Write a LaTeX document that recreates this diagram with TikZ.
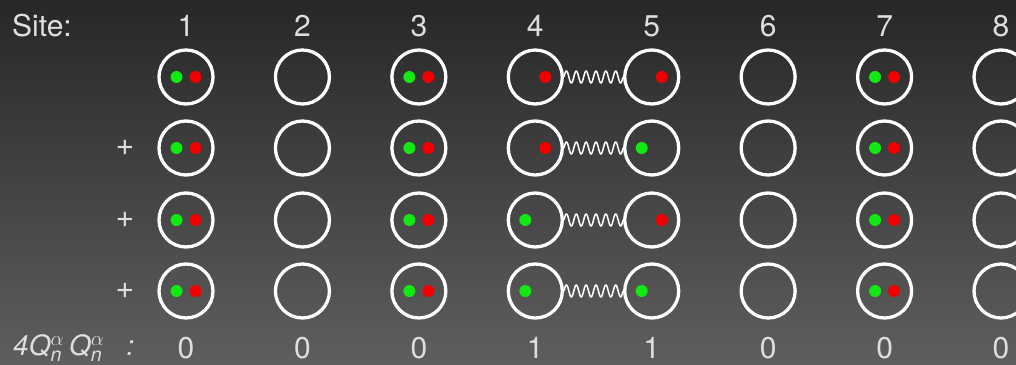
\documentclass[tikz,border=0pt]{standalone}
\usepackage{amsmath}
\usepackage{fontspec}
\setmainfont{TeX Gyre Heros}
\usetikzlibrary{calc}
\definecolor{txt}{HTML}{DEDEDE}
\definecolor{bgtop}{HTML}{272727}
\definecolor{bgbot}{HTML}{5E5E5E}
\definecolor{dotgreen}{HTML}{12E812}
\definecolor{dotred}{HTML}{F20000}
\begin{document}
\begin{tikzpicture}[x=1pt,y=-1pt,
  sitecirc/.style={circle,draw=white,line width=3.3pt,minimum size=54pt,inner sep=0pt},
  lbl/.style={text=txt,font=\fontsize{30}{36}\selectfont,inner sep=0pt},
  spring/.style={draw=white,line width=1.5pt,line join=round},
  gdot/.style={fill=dotgreen},
  rdot/.style={fill=dotred}]
\useasboundingbox (0,0) rectangle (1016,364);
\clip (0,0) rectangle (1016,364);
\shade[top color=bgtop,bottom color=bgbot] (0,0) rectangle (1016,364);
% header
\node[lbl,anchor=base west] (site) at (12,36) {Site:};
\node[lbl,anchor=base west,font=\fontsize{28}{32}\selectfont] (qq) at (13,355)
  {\itshape 4Q$^{\alpha}_{\textit{n}}$\hspace{5pt}Q$^{\alpha}_{\textit{n}}$\hspace{22pt}:};
\foreach \i/\v in {1/0,2/0,3/0,4/1,5/1,6/0,7/0,8/0}{
  \pgfmathsetmacro\x{186+116.43*(\i-1)}
  \node[lbl,anchor=base] (n\i) at (\x,36) {\i};
  \node[lbl,anchor=base] (v\i) at (\x,358) {\v};
  \foreach \r/\y in {1/77,2/148,3/220,4/291}{
    \node[sitecirc] (c\i-\r) at (\x,\y) {};
  }
}
% plus signs
\foreach \r/\y in {2/148,3/220,4/291}{
  \node[lbl,font=\fontsize{32}{36}\selectfont] (p\r) at (125,\y) {+};
}
% doubly occupied sites
\foreach \i in {1,3,7}{
  \foreach \r in {1,2,3,4}{
    \fill[gdot] ([xshift=-9.5pt]c\i-\r.center) circle (6pt);
    \fill[rdot] ([xshift=9.5pt]c\i-\r.center) circle (6pt);
  }
}
% sites 4 and 5
\fill[rdot] ([xshift=10pt]c4-1.center) circle (6pt);
\fill[rdot] ([xshift=10pt]c5-1.center) circle (6pt);
\fill[rdot] ([xshift=10pt]c4-2.center) circle (6pt);
\fill[gdot] ([xshift=-10pt]c5-2.center) circle (6pt);
\fill[gdot] ([xshift=-10pt]c4-3.center) circle (6pt);
\fill[rdot] ([xshift=10pt]c5-3.center) circle (6pt);
\fill[gdot] ([xshift=-10pt]c4-4.center) circle (6pt);
\fill[gdot] ([xshift=-10pt]c5-4.center) circle (6pt);
% springs
\foreach \r in {1,2,3,4}{
  \draw[spring] let \p1=(c4-\r.east), \p2=(c5-\r.west) in
    plot[variable=\t,domain=0:1,samples=181,smooth]
    ({\x1+(\x2-\x1)*\t}, {\y1+6*sin(6*360*\t)});
}
\end{tikzpicture}
\end{document}
